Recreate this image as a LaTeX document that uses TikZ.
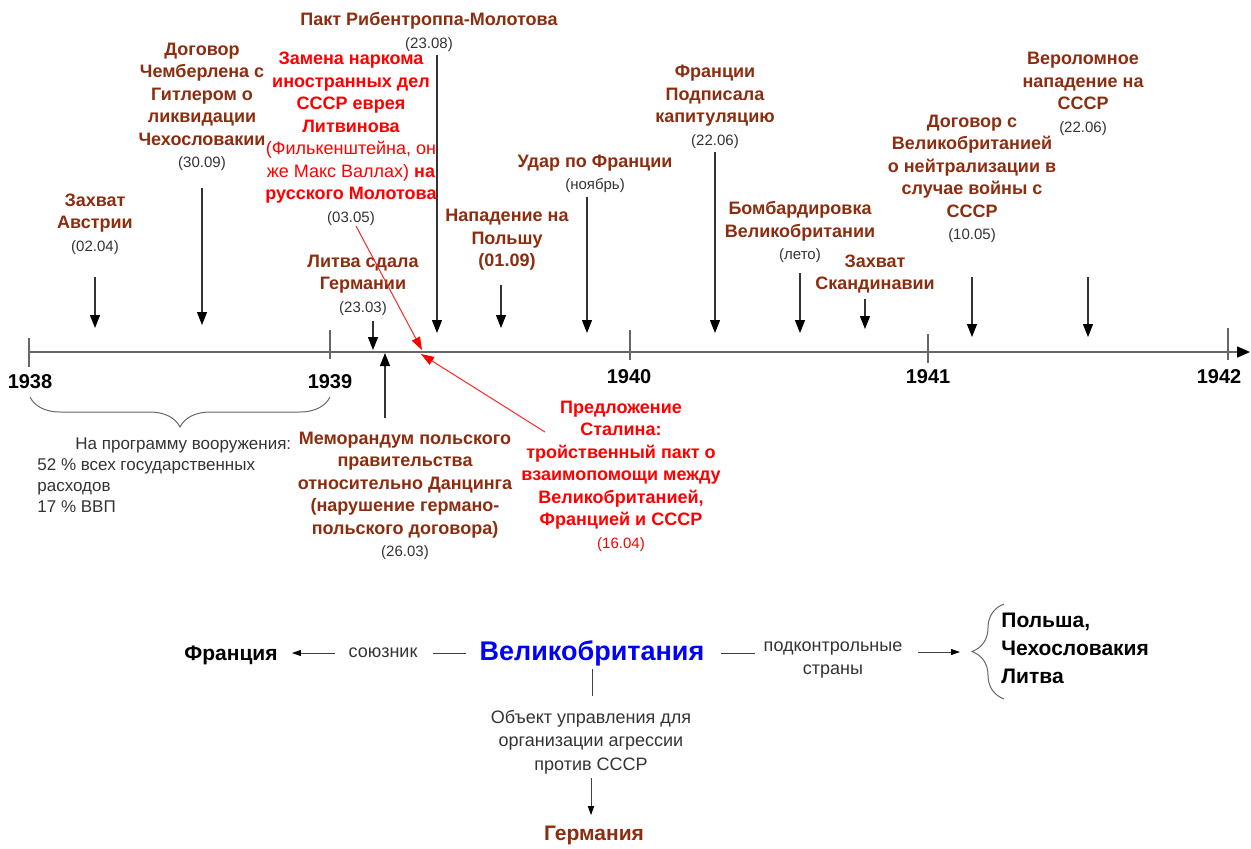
\documentclass[tikz,border=0pt]{standalone}
\usepackage{fontspec}
\setmainfont{Liberation Sans}
\usetikzlibrary{arrows.meta,decorations.pathreplacing}
\definecolor{brn}{RGB}{140,45,15}
\definecolor{dgr}{RGB}{51,51,51}
\newcommand{\evfont}{\fontsize{9}{11.25}\selectfont\bfseries}
\newcommand{\evdate}[1]{{\fontsize{7.5}{9}\selectfont\mdseries\color{dgr}#1}}
\begin{document}
\begin{tikzpicture}[x=0.5pt,y=-0.5pt,
  event/.style={align=center,inner sep=0pt,text=brn,font=\evfont},
  year/.style={inner sep=0pt,font=\fontsize{10}{12}\selectfont\bfseries},
  note/.style={align=center,inner sep=0pt,text=dgr,font=\fontsize{9}{11.75}\selectfont},
  big/.style={inner sep=0pt,font=\fontsize{10.5}{14}\selectfont\bfseries},
  evarrow/.style={draw=black!80,line width=0.6pt,-{Triangle[width=5pt,length=6.5pt,color=black]}},
  redarrow/.style={draw=red!85,line width=0.5pt,-{Triangle[width=4.5pt,length=6.5pt,color=red]}},
  lnk/.style={draw=black!75,line width=0.5pt},
  lnkarr/.style={lnk,-{Triangle[width=3pt,length=4.5pt,color=black]}}]
\useasboundingbox (0,0) rectangle (1251,848);
%
\coordinate (ax0) at (29,352);
\coordinate (ax1) at (1250,352);
\draw[draw=black!60,line width=0.8pt,-{Triangle[width=5.5pt,length=6.5pt,color=black]}] (ax0) -- (ax1);
\foreach \tx/\lx/\ly/\yr/\t/\b in {29/30/382/1938/338/367,330/330/382/1939/330/359,630/629/377/1940/330/360,928/928/377/1941/334/363,1228/1219/377/1942/328/360}{
  \draw[black!60,line width=0.6pt] (\tx,\t) -- (\tx,\b);
  \node[year] (y\yr) at (\lx,\ly) {\yr};
}
%
\node[event] (aus) at (95,224) {Захват\\Австрии\\\evdate{(02.04)}};
\node[event] (cham) at (202,107) {Договор\\Чемберлена с\\Гитлером о\\ликвидации\\Чехословакии\\\evdate{(30.09)}};
\node[event] (pakt) at (429,32) {Пакт Рибентроппа-Молотова\\\evdate{(23.08)}};
\node[event,text=red] (zam) at (351,139) {Замена наркома\\иностранных дел\\СССР еврея\\Литвинова\\{\mdseries(Филькенштейна, он}\\{\mdseries же Макс Валлах)} на\\русского Молотова\\\evdate{(03.05)}};
\node[event] (lit) at (363,285) {Литва сдала\\Германии\\\evdate{(23.03)}};
\node[event] (pol) at (507,240) {Нападение на\\Польшу\\(01.09)};
\node[event] (fra) at (595,174) {Удар по Франции\\\evdate{(ноябрь)}};
\node[event] (kap) at (715,107) {Франции\\Подписала\\капитуляцию\\\evdate{(22.06)}};
\node[event] (bomb) at (800,232) {Бомбардировка\\Великобритании\\\evdate{(лето)}};
\node[event] (skan) at (875,274) {Захват\\Скандинавии};
\node[event] (neut) at (972,179) {Договор с\\Великобританией\\о нейтрализации в\\случае войны с\\СССР\\\evdate{(10.05)}};
\node[event] (ussr) at (1083,94) {Вероломное\\нападение на\\СССР\\\evdate{(22.06)}};
%
\foreach \n/\x/\t/\b in {1/95/277/328,2/202/188/325,3/373/321/350,4/437/55/333,5/501/285/328,6/587/197/333,7/715/152/333,8/800/273/333,9/865/299/329,10/972/277/337,11/1088/277/337}{
  \coordinate (s\n) at (\x,\t);
  \coordinate (e\n) at (\x,\b);
  \draw[evarrow] (s\n) -- (e\n);
}
%
\node[event] (memo) at (405,496) {Меморандум польского\\правительства\\относительно Данцинга\\(нарушение германо-\\польского договора)\\\evdate{(26.03)}};
\coordinate (ms) at (385,418);
\coordinate (me) at (385,353);
\draw[evarrow] (ms) -- (me);
%
\node[event,text=red] (stal) at (621,476) {Предложение\\Сталина:\\тройственный пакт о\\взаимопомощи между\\Великобританией,\\Францией и СССР\\\evdate{\color{red}(16.04)}};
\coordinate (zt) at (422,350);
\coordinate (ss) at (545,432);
\coordinate (st) at (421,354);
\draw[redarrow] ([xshift=2.5pt]zam.south) -- (zt);
\draw[redarrow] (ss) -- (st);
%
\draw[black!60,line width=0.5pt,decorate,decoration={brace,mirror,amplitude=15pt}] (30,397) -- (330,397);
\node[anchor=north west,align=left,inner sep=0pt,text=dgr,font=\fontsize{8.5}{10.5}\selectfont] (prog) at (37,437)
  {\hspace*{19pt}На программу вооружения:\\52 \% всех государственных\\расходов\\17 \% ВВП};
%===========================
\node[inner sep=0pt,text=blue,font=\fontsize{13.5}{16}\selectfont\bfseries] (gb) at (592,653) {Великобритания};
\node[big] (fr) at (231,655) {Франция};
\node[note] (sz) at (383,653) {союзник};
\node[note] (pk) at (833,660) {подконтрольные\\страны};
\node[big,align=left,anchor=west] (cn) at (1001,648) {Польша,\\Чехословакия\\Литва};
\node[note] (ob) at (591,742) {Объект управления для\\организации агрессии\\против СССР};
\node[big,text=brn] (ger) at (594,835) {Германия};
\coordinate (br) at (972,652);
\draw[black!60,line width=0.5pt,decorate,decoration={brace,amplitude=16pt}] (1004,699) -- (1004,604);
%
\draw[lnk,shorten <=6.5pt,shorten >=7.5pt] (gb.west) -- (gb.west -| sz.east);
\draw[lnkarr,shorten <=6.5pt,shorten >=7pt] (sz.west) -- (sz.west -| fr.east);
\draw[lnk,shorten <=8pt,shorten >=4pt] (gb.east) -- (gb.east -| pk.west);
\draw[lnkarr,shorten <=7.5pt,shorten >=6pt] (pk.east |- br) -- (br);
\draw[lnk,shorten <=1.5pt,shorten >=7pt] (gb.south) -- (gb.south |- ob.north);
\draw[lnkarr,shorten <=2pt,shorten >=5pt] (ob.south) -- (ob.south |- ger.north);
\end{tikzpicture}
\end{document}
